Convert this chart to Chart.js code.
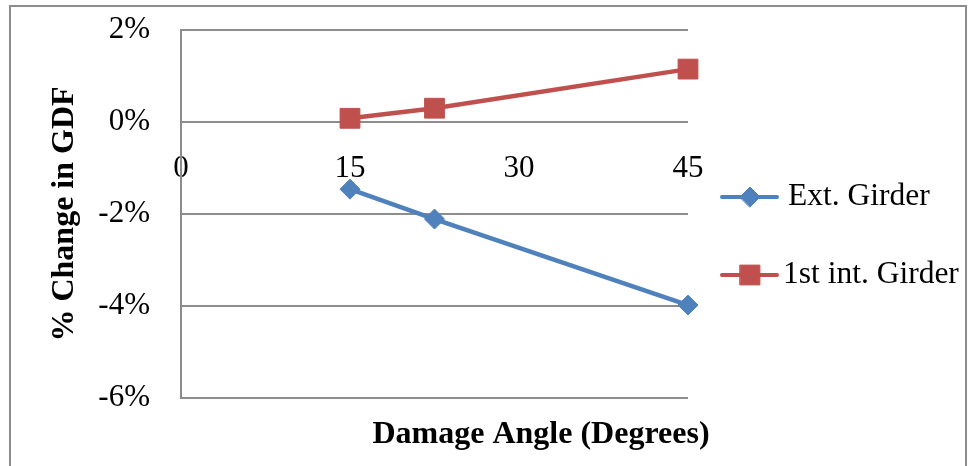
<!DOCTYPE html>
<html>
<head>
<meta charset="utf-8">
<script src="https://cdn.jsdelivr.net/npm/chart.js@4"></script>
<style>
  body { margin: 0; background: #fff; }
  canvas { display: block; }
</style>
</head>
<body>
<canvas id="gdfChart" width="972" height="466"></canvas>
<script>
// dados
const angulos = [15, 22.5, 45];
const extGirder = [-1.46, -2.11, -3.98];
const intGirder = [0.08, 0.30, 1.15];
const xTicks = [0, 15, 30, 45];
const yTicks = [-6, -4, -2, 0, 2];
const nomes = ['Ext. Girder', '1st int. Girder'];

const azul = '#4f81bd';
const vermelho = '#c0504d';
const cinza = '#8c8c8c';
const fonte = "'Liberation Serif', 'Times New Roman', serif";

function pontos(ys) {
  return angulos.map((a, i) => ({ x: a, y: ys[i] }));
}

// moldura, títulos dos eixos e legenda
const extras = {
  id: 'extras',
  beforeDraw(chart) {
    const ctx = chart.ctx;
    ctx.save();
    ctx.fillStyle = '#fff';
    ctx.fillRect(0, 0, chart.width, chart.height);
    ctx.strokeStyle = cinza;
    ctx.lineWidth = 2;
    ctx.strokeRect(10, 6, 956, 520);
    ctx.restore();
  },
  afterDraw(chart) {
    const ctx = chart.ctx;
    const area = chart.chartArea;
    ctx.save();
    ctx.fillStyle = '#000';
    ctx.font = 'bold 32px ' + fonte;
    ctx.textAlign = 'center';
    ctx.textBaseline = 'alphabetic';
    ctx.fillText('Damage Angle (Degrees)', 541, 443);

    ctx.translate(73, (area.top + area.bottom) / 2);
    ctx.rotate(-Math.PI / 2);
    ctx.font = 'bold 32px ' + fonte;
    ctx.fillText('% Change in GDF', 0, 0);
    ctx.restore();

    // legenda
    const itens = [
      { y: 197, cor: azul, estilo: 'rectRot', raio: 10 },
      { y: 275, cor: vermelho, estilo: 'rect', raio: 14 }
    ];
    ctx.save();
    itens.forEach((it, i) => {
      ctx.strokeStyle = it.cor;
      ctx.lineWidth = 4;
      ctx.lineCap = 'round';
      ctx.beginPath();
      ctx.moveTo(722, it.y);
      ctx.lineTo(777, it.y);
      ctx.stroke();
      ctx.fillStyle = it.cor;
      ctx.lineWidth = 1;
      Chart.helpers.drawPoint(ctx, { pointStyle: it.estilo, radius: it.raio, borderWidth: 1 }, 750, it.y);
      ctx.fillStyle = '#000';
      ctx.font = '31.5px ' + fonte;
      ctx.textAlign = 'left';
      ctx.textBaseline = 'middle';
      ctx.fillText(nomes[i], i === 0 ? 788 : 783, it.y);
    });
    ctx.restore();
  }
};

const ctx = document.getElementById('gdfChart').getContext('2d');
const grafico = new Chart(ctx, {
  type: 'line',
  data: {
    datasets: [{
      label: nomes[0],
      data: pontos(extGirder),
      borderColor: azul,
      backgroundColor: azul,
      borderWidth: 4.5,
      pointStyle: 'rectRot',
      pointRadius: 10,
      pointBorderWidth: 1,
      pointHoverRadius: 10,
      clip: false
    }, {
      label: nomes[1],
      data: pontos(intGirder),
      borderColor: vermelho,
      backgroundColor: vermelho,
      borderWidth: 4.5,
      pointStyle: 'rect',
      pointRadius: 14,
      pointBorderWidth: 1,
      pointHoverRadius: 14,
      clip: false
    }]
  },
  options: {
    responsive: false,
    animation: false,
    layout: { autoPadding: false, padding: { left: 0, top: 30, right: 284, bottom: 68 } },
    plugins: {
      legend: { display: false },
      tooltip: { enabled: false }
    },
    scales: {
      x: {
        type: 'linear',
        position: { y: 0 },
        min: 0,
        max: 45,
        afterBuildTicks: s => { s.ticks = xTicks.map(v => ({ value: v })); },
        grid: { display: false, drawTicks: false },
        border: { display: false },
        ticks: {
          color: '#000',
          padding: 28,
          font: { family: fonte, size: 31 },
          callback: v => String(v)
        }
      },
      y: {
        min: -6,
        max: 2,
        afterBuildTicks: s => { s.ticks = yTicks.map(v => ({ value: v })); },
        afterFit: s => { s.width = 181; s.paddingTop = 0; s.paddingBottom = 0; },
        grid: { color: cinza, lineWidth: 2, drawTicks: false },
        border: { display: true, color: cinza, width: 2 },
        ticks: {
          color: '#000',
          padding: 31,
          font: { family: fonte, size: 31 },
          callback: v => v + '%'
        }
      }
    }
  },
  plugins: [extras]
});
</script>
</body>
</html>
